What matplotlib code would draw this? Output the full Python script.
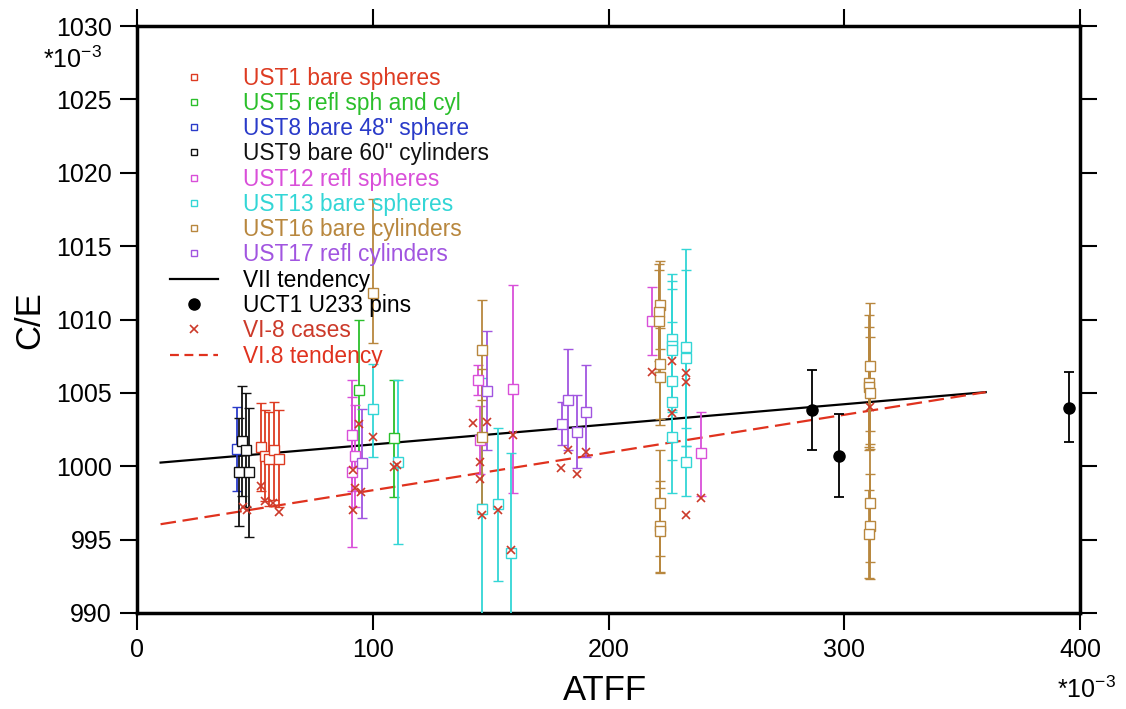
import numpy as np
import matplotlib
matplotlib.use("Agg")
import matplotlib.pyplot as plt
from matplotlib.lines import Line2D

plt.rcParams['font.family'] = ['Liberation Sans', 'DejaVu Sans']
plt.rcParams['mathtext.default'] = 'regular'

# each series: x, y, lower end of error bar, upper end of error bar
ust1_x = [52.6, 54.3, 56.1, 58.1, 60.4]
ust1_y = [1001.3, 1000.7, 1000.5, 1001.1, 1000.5]
ust1_lo = [998.3, 997.6, 997.3, 997.7, 997.2]
ust1_hi = [1004.3, 1003.8, 1003.7, 1004.4, 1003.8]

ust5_x = [94.0, 109.0]
ust5_y = [1005.2, 1001.9]
ust5_lo = [1000.4, 997.9]
ust5_hi = [1010.0, 1005.9]

ust8_x = [42.3]
ust8_y = [1001.15]
ust8_lo = [998.3]
ust8_hi = [1004.05]

ust9_x = [43.4, 44.7, 46.2, 47.5]
ust9_y = [999.6, 1001.7, 1001.1, 999.6]
ust9_lo = [995.9, 998.0, 997.2, 995.2]
ust9_hi = [1003.3, 1005.45, 1005.0, 1004.0]

ust12_x = [91.3, 92.6, 91.0, 144.8, 145.5, 159.6, 218.6, 239.2]
ust12_y = [1002.1, 1000.7, 999.6, 1005.9, 1001.8, 1005.25, 1009.9, 1000.9]
ust12_lo = [998.3, 997.2, 994.5, 1004.85, 999.5, 998.15, 1007.6, 998.0]
ust12_hi = [1005.9, 1004.2, 1004.7, 1006.9, 1004.1, 1012.35, 1012.2, 1003.7]

ust13_x = [100.0, 110.5, 146.2, 153.3, 158.5, 226.8, 226.8, 226.8, 226.8, 226.8, 226.8,
           232.9, 232.9, 232.9]
ust13_y = [1003.9, 1000.3, 997.1, 997.4, 994.1, 1008.7, 1008.2, 1007.9, 1005.8, 1004.4, 1002.0,
           1008.1, 1007.4, 1000.3]
ust13_lo = [1000.65, 994.7, 988.2, 992.2, 987.3, 1004.3, 1003.8, 1003.7, 1001.8, 1000.4, 998.2,
            1001.4, 1001.4, 998.0]
ust13_hi = [1007.0, 1005.9, 1006.0, 1002.6, 1000.9, 1013.1, 1012.6, 1012.1, 1009.8, 1008.4, 1005.8,
            1014.8, 1013.4, 1002.6]

ust16_x = [100.2, 146.2, 146.4,
           221.8, 221.6, 221.6, 221.8, 221.8, 221.9, 221.8, 221.9,
           311.0, 310.5, 310.7, 310.9, 311.0, 311.0, 310.7]
ust16_y = [1011.8, 1007.9, 1002.0,
           1011.0, 1010.5, 1009.9, 1007.0, 1006.1, 997.5, 995.9, 995.6,
           1006.8, 1005.7, 1005.4, 1005.0, 997.5, 995.9, 995.4]
ust16_lo = [1008.4, 1004.5, 997.4,
            1008.0, 1007.2, 1006.4, 1003.2, 1002.8, 993.9, 992.8, 992.7,
            1002.4, 1001.1, 1001.3, 1001.2, 993.5, 992.3, 992.4]
ust16_hi = [1018.2, 1011.3, 1006.6,
            1014.0, 1013.8, 1013.4, 1010.8, 1009.4, 1001.1, 999.0, 998.5,
            1011.15, 1010.3, 1009.5, 1008.8, 1001.5, 999.5, 998.4]

ust17_x = [95.3, 148.3, 180.1, 182.7, 186.5, 190.5]
ust17_y = [1000.2, 1005.1, 1002.9, 1004.5, 1002.3, 1003.7]
ust17_lo = [996.5, 1001.1, 1001.45, 1001.1, 999.85, 1000.65]
ust17_hi = [1003.9, 1009.2, 1004.4, 1008.0, 1004.85, 1006.9]

uct1_x = [286.3, 297.8, 395.3]
uct1_y = [1003.8, 1000.7, 1004.0]
uct1_lo = [1001.1, 997.9, 1001.65]
uct1_hi = [1006.55, 1003.55, 1006.4]

vi8_x = [45.1, 46.5, 52.6, 54.3, 57.8, 60.4,
         94.2, 91.5, 92.5, 94.9, 91.5, 100.0, 110.1, 109.0,
         142.7, 148.3, 145.5, 145.5, 146.2, 153.3, 158.5, 159.6,
         179.7, 182.7, 186.5, 190.5,
         218.3, 226.8, 226.8, 232.9, 232.9, 232.9, 239.2, 310.9]
vi8_y = [997.2, 997.0, 998.65, 997.6, 997.5, 996.9,
         1002.9, 999.74, 998.5, 998.27, 997.02, 1001.97, 1000.08, 999.95,
         1002.97, 1003.0, 1000.3, 999.11, 996.68, 997.0, 994.3, 1002.1,
         999.86, 1001.1, 999.5, 1001.0,
         1006.44, 1007.19, 1003.65, 1006.37, 1005.76, 996.68, 997.82, 1004.06]

tend_x = [10, 360]
vii_tend_y = [1000.25, 1005.05]
vi8_tend_y = [996.05, 1005.05]

xticks = [0, 100, 200, 300, 400]
yticks = [990, 995, 1000, 1005, 1010, 1015, 1020, 1025, 1030]

series = [
    ("UST1 bare spheres", '#dd3b22', ust1_x, ust1_y, ust1_lo, ust1_hi),
    ("UST5 refl sph and cyl", '#2bbf2b', ust5_x, ust5_y, ust5_lo, ust5_hi),
    ("UST8 bare 48\" sphere", '#2a3bc9', ust8_x, ust8_y, ust8_lo, ust8_hi),
    ("UST9 bare 60\" cylinders", '#111111', ust9_x, ust9_y, ust9_lo, ust9_hi),
    ("UST12 refl spheres", '#d94fd9', ust12_x, ust12_y, ust12_lo, ust12_hi),
    ("UST13 bare spheres", '#33d6d6', ust13_x, ust13_y, ust13_lo, ust13_hi),
    ("UST16 bare cylinders", '#b8873e', ust16_x, ust16_y, ust16_lo, ust16_hi),
    ("UST17 refl cylinders", '#a155e0', ust17_x, ust17_y, ust17_lo, ust17_hi),
]
red_x = '#cc3a2a'
red_dash = '#e0321e'

fig = plt.figure(figsize=(11.26, 7.09), dpi=100)
ax = fig.add_axes([137 / 1126, 1 - 613 / 709, 943 / 1126, 587 / 709])

ax.plot(tend_x, vii_tend_y, color='black', lw=1.6, zorder=2)
ax.plot(tend_x, vi8_tend_y, color=red_dash, lw=1.6, ls=(0, (7, 3)), zorder=2)

for name, col, x, y, lo, hi in series:
    y = np.array(y)
    yerr = [y - np.array(lo), np.array(hi) - y]
    ax.errorbar(x, y, yerr=yerr, fmt='s', color=col, ecolor=col, elinewidth=1.3,
                capsize=3.5, capthick=1.3, ms=6.5, mfc='white', mec=col, mew=1.0,
                zorder=3)

uy = np.array(uct1_y)
ax.errorbar(uct1_x, uy, yerr=[uy - np.array(uct1_lo), np.array(uct1_hi) - uy], fmt='o',
            color='black', elinewidth=1.3, capsize=3.5, capthick=1.3, ms=8, zorder=3)

ax.plot(vi8_x, vi8_y, 'x', color=red_x, ms=6, mew=1.2, ls='none', zorder=4)

ax.set_xlim(0, 400)
ax.set_ylim(990, 1030)
ax.set_xticks(xticks)
ax.set_yticks(yticks)
ax.tick_params(direction='out', length=12, width=1.5, top=True, right=True,
               labelsize=18, pad=6)
for s in ax.spines.values():
    s.set_linewidth(2.5)

fig.text(72 / 1126, 1 - 60 / 709, r'*10$^{-3}$', fontsize=18, ha='center', va='center')
fig.text(1086 / 1126, 1 - 690 / 709, r'*10$^{-3}$', fontsize=18, ha='center', va='center')
fig.text(30 / 1126, 1 - 320 / 709, 'C/E', fontsize=25, rotation=90, ha='center', va='center')
fig.text(605 / 1126, 1 - 690 / 709, 'ATFF', fontsize=25, ha='center', va='center')

handles = [Line2D([], [], ls='none', marker='s', ms=5, mfc='white', mec=col, mew=1.0)
           for _, col, *_ in series]
handles += [Line2D([], [], color='black', lw=1.6),
            Line2D([], [], ls='none', marker='o', ms=8, color='black'),
            Line2D([], [], ls='none', marker='x', ms=6, mew=1.2, color=red_x),
            Line2D([], [], color=red_dash, lw=1.6, ls=(0, (4, 2.5)))]
labels = [s[0] for s in series] + ["VII tendency", "UCT1 U233 pins", "VI-8 cases", "VI.8 tendency"]
text_cols = [s[1] for s in series] + ['black', 'black', red_x, red_dash]

leg = ax.legend(handles, labels, loc='upper left', bbox_to_anchor=(0.035, 0.931),
                frameon=False, fontsize=16.4, borderpad=0, borderaxespad=0,
                handlelength=2.1, handletextpad=1.1, labelspacing=0.1)
for t, c in zip(leg.get_texts(), text_cols):
    t.set_color(c)

fig.savefig('out.png', dpi=100)
